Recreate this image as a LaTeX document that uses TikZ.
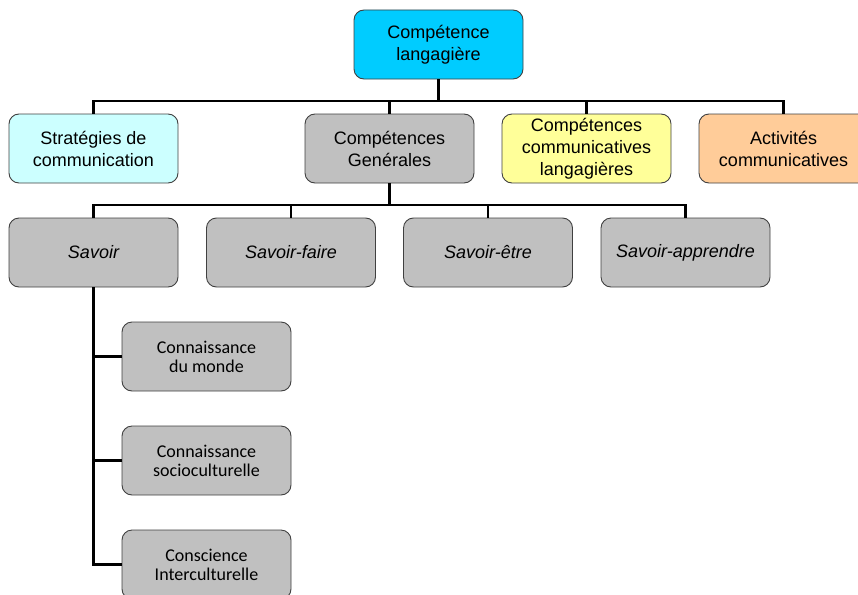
\documentclass[tikz,border=0pt]{standalone}
\usepackage{fontspec}
\setmainfont{Liberation Sans}
\newfontfamily\calibrifont{Carlito}
\definecolor{topcyan}{HTML}{00CCFF}
\definecolor{lightcyan}{HTML}{CCFFFF}
\definecolor{boxgray}{HTML}{C0C0C0}
\definecolor{paleyellow}{HTML}{FFFF99}
\definecolor{peach}{HTML}{FFCC99}
\definecolor{edgegray}{HTML}{404040}
\begin{document}
\begin{tikzpicture}[x=1pt,y=-1pt,
  box/.style={draw=edgegray, line width=0.9pt, rounded corners=10pt,
    minimum width=169pt, minimum height=69pt, inner sep=2pt, align=center,
    font=\fontsize{18}{22}\selectfont},
  gbox/.style={box, fill=boxgray},
  ibox/.style={gbox, font=\fontsize{18}{22}\selectfont\itshape},
  cbox/.style={gbox, font=\fontsize{18}{18.8}\selectfont\calibrifont},
  conn/.style={line width=2.8pt, black}]
\useasboundingbox (0,0) rectangle (858,594);
\clip (0,0) rectangle (858,594);

% root
\node[box, fill=topcyan] (top) at (438.5,44.5) {Compétence\\langagière};

% second level
\node[box, fill=lightcyan] (strat) at (93.5,148.5) {Stratégies de\\communication};
\node[gbox] (gen) at (389.5,148.5) {Compétences\\Genérales};
\node[box, fill=paleyellow] (comm) at (586.5,148.5) {Compétences\\communicatives\\langagières};
\node[box, fill=peach] (act) at (783.5,148.5) {Activités\\communicatives};

% third level
\node[ibox] (sav) at (93.5,252.5) {Savoir};
\node[ibox] (faire) at (291,252.5) {Savoir-faire};
\node[ibox] (etre) at (488,252.5) {Savoir-être};
\node[ibox] (appr) at (685.5,252.5) {Savoir-apprendre};

% fourth level
\node[cbox] (monde) at (206.5,356.5) {Connaissance\\du monde};
\node[cbox] (socio) at (206.5,460.5) {Connaissance\\socioculturelle};
\node[cbox] (inter) at (206.5,564.5) {Conscience\\Interculturelle};

% connectors from the root
\coordinate (j1) at (438.5,101);
\draw[conn] (top.south) -- (j1);
\draw[conn] (strat.north) |- (j1);
\draw[conn] (act.north) |- (j1);
\draw[conn] (gen.north) -- (gen.north |- j1);
\draw[conn] (comm.north) -- (comm.north |- j1);

% connectors from Compétences Genérales
\coordinate (j2) at (389.5,205);
\draw[conn] (gen.south) -- (j2);
\draw[conn] (sav.north) |- (j2);
\draw[conn] (appr.north) |- (j2);
\draw[conn] (faire.north) -- (faire.north |- j2);
\draw[conn] (etre.north) -- (etre.north |- j2);

% connectors from Savoir
\draw[conn] (sav.south) |- (inter.west);
\draw[conn] (monde.west) -- (monde.west -| sav.south);
\draw[conn] (socio.west) -- (socio.west -| sav.south);
\end{tikzpicture}
\end{document}
